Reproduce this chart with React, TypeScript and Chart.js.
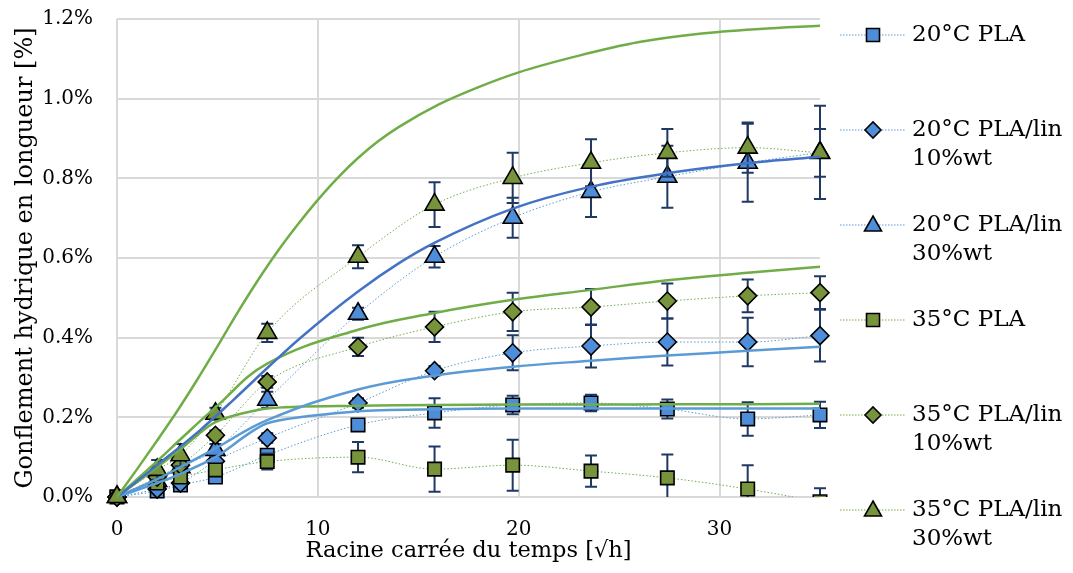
import React, { useEffect, useRef } from 'react';
import { Chart, registerables } from 'chart.js';

Chart.register(...registerables);

// x values: square root of time [√h]
const X_SQRT_H = [0, 2, 3.16, 4.9, 7.48, 12, 15.81, 19.7, 23.6, 27.4, 31.4, 35];

// measured swelling [%] and error bars
const PLA_20 = [0, 0.015, 0.03, 0.05, 0.105, 0.181, 0.211, 0.231, 0.236, 0.221, 0.196, 0.206];
const PLA_20_ERR = [0, 0.008, 0.01, 0.012, 0.015, 0.008, 0.037, 0.023, 0.021, 0.024, 0.042, 0.033];

const LIN10_20 = [0, 0.02, 0.035, 0.09, 0.148, 0.236, 0.317, 0.362, 0.379, 0.389, 0.389, 0.405];
const LIN10_20_ERR = [0, 0.008, 0.01, 0.01, 0.012, 0.012, 0.012, 0.044, 0.054, 0.059, 0.061, 0.065];

const LIN30_20 = [0, 0.04, 0.075, 0.118, 0.244, 0.46, 0.603, 0.701, 0.766, 0.804, 0.839, 0.865];
const LIN30_20_ERR = [0, 0.01, 0.01, 0.015, 0.02, 0.015, 0.027, 0.05, 0.063, 0.078, 0.098, 0.117];

const PLA_35 = [0, 0.035, 0.05, 0.068, 0.089, 0.1, 0.07, 0.08, 0.065, 0.048, 0.02, -0.012];
const PLA_35_ERR = [0, 0.01, 0.012, 0.015, 0.02, 0.038, 0.057, 0.064, 0.039, 0.059, 0.06, 0.034];

const LIN10_35 = [0, 0.05, 0.08, 0.155, 0.289, 0.377, 0.427, 0.465, 0.477, 0.492, 0.505, 0.513];
const LIN10_35_ERR = [0, 0.01, 0.01, 0.012, 0.015, 0.023, 0.038, 0.048, 0.045, 0.044, 0.041, 0.041];

const LIN30_35 = [0, 0.068, 0.105, 0.209, 0.412, 0.603, 0.734, 0.801, 0.839, 0.864, 0.877, 0.864];
const LIN30_35_ERR = [0, 0.025, 0.028, 0.015, 0.023, 0.029, 0.056, 0.063, 0.059, 0.06, 0.063, 0.06];

// model (fit) curves
const FIT_LIN30_35_X = [0, 1, 2, 3, 4, 5, 6, 7, 8, 9, 10, 11, 12, 13, 14, 16, 18, 20, 23, 26, 29, 32, 35];
const FIT_LIN30_35 = [0, 0.07, 0.142, 0.216, 0.295, 0.378, 0.463, 0.543, 0.617, 0.684, 0.746, 0.802, 0.851, 0.893, 0.928, 0.985, 1.029, 1.066, 1.108, 1.142, 1.163, 1.175, 1.183];
const FIT_LIN30_20_X = [0, 2, 4.14, 5.8, 7.55, 9.1, 12, 14.1, 15.8, 19.7, 23.5, 27.4, 31.4, 35];
const FIT_LIN30_20 = [0, 0.08, 0.168, 0.244, 0.327, 0.398, 0.516, 0.589, 0.638, 0.724, 0.778, 0.813, 0.838, 0.854];
const FIT_LIN10_35 = [0, 0.09, 0.145, 0.225, 0.335, 0.42, 0.462, 0.495, 0.52, 0.544, 0.563, 0.578];
const FIT_LIN10_20 = [0, 0.045, 0.075, 0.122, 0.193, 0.27, 0.305, 0.327, 0.342, 0.355, 0.367, 0.377];
const FIT_PLA_35 = [0, 0.075, 0.12, 0.188, 0.222, 0.229, 0.231, 0.232, 0.232, 0.233, 0.233, 0.234];
const FIT_PLA_20 = [0, 0.035, 0.058, 0.1, 0.185, 0.215, 0.22, 0.222, 0.222, 0.222, 0.222, 0.222];

const Y_TICKS_MAX = 1.2;
const Y_STEP = 0.2;
const X_MAX = 35;
const X_STEP = 10;

const LEGEND_LABELS = [
  ['20°C PLA'],
  ['20°C PLA/lin', '10%wt'],
  ['20°C PLA/lin', '30%wt'],
  ['35°C PLA'],
  ['35°C PLA/lin', '10%wt'],
  ['35°C PLA/lin', '30%wt'],
];

const BLUE_LINE = '#5B9BD5';
const BLUE_FILL = '#4E8DDA';
const DARK_BLUE = '#4472C4';
const GREEN_LINE = '#70AD47';
const GREEN_FILL = '#77933C';
const ERR_COLOR = '#1F3864';
const SERIF = '"DejaVu Serif", serif';

const SERIES = [
  { values: PLA_20, errors: PLA_20_ERR, style: 'rect', line: BLUE_LINE, fill: BLUE_FILL, order: 16 },
  { values: LIN10_20, errors: LIN10_20_ERR, style: 'rectRot', line: BLUE_LINE, fill: BLUE_FILL, order: 15 },
  { values: LIN30_20, errors: LIN30_20_ERR, style: 'triangle', line: BLUE_LINE, fill: BLUE_FILL, order: 14 },
  { values: PLA_35, errors: PLA_35_ERR, style: 'rect', line: GREEN_LINE, fill: GREEN_FILL, order: 13 },
  { values: LIN10_35, errors: LIN10_35_ERR, style: 'rectRot', line: GREEN_LINE, fill: GREEN_FILL, order: 12 },
  { values: LIN30_35, errors: LIN30_35_ERR, style: 'triangle', line: GREEN_LINE, fill: GREEN_FILL, order: 11 },
];

const FITS = [
  { xs: FIT_LIN30_35_X, values: FIT_LIN30_35, color: GREEN_LINE, smooth: 0, mono: true },
  { xs: FIT_LIN30_20_X, values: FIT_LIN30_20, color: DARK_BLUE, smooth: 0, mono: true },
  { xs: X_SQRT_H, values: FIT_LIN10_35, color: GREEN_LINE, smooth: 0.4, mono: false },
  { xs: X_SQRT_H, values: FIT_LIN10_20, color: BLUE_LINE, smooth: 0.4, mono: false },
  { xs: X_SQRT_H, values: FIT_PLA_35, color: GREEN_LINE, smooth: 0.25, mono: false },
  { xs: X_SQRT_H, values: FIT_PLA_20, color: BLUE_LINE, smooth: 0.25, mono: false },
];

const radiusFor = (style: string) => (style === 'triangle' ? 11 : style === 'rect' ? 9.5 : 9);

const errorBarPlugin = {
  id: 'errorBars',
  beforeDatasetDraw(chart: any, args: any) {
    const ds = chart.data.datasets[args.index];
    if (!ds.errors) return;
    const xs = chart.scales.x;
    const ys = chart.scales.y;
    const ctx = chart.ctx;
    const ca = chart.chartArea;
    ctx.save();
    ctx.beginPath();
    ctx.rect(ca.left - 30, ca.top - 30, ca.right - ca.left + 60, ca.bottom - ca.top + 30);
    ctx.clip();
    ctx.strokeStyle = ERR_COLOR;
    ctx.lineWidth = 2;
    ds.data.forEach((p: any, i: number) => {
      const e = ds.errors[i];
      if (!e) return;
      const px = xs.getPixelForValue(p.x);
      const yTop = ys.getPixelForValue(p.y + e);
      const yBot = ys.getPixelForValue(p.y - e);
      ctx.beginPath();
      ctx.moveTo(px, yTop);
      ctx.lineTo(px, yBot);
      ctx.moveTo(px - 6, yTop);
      ctx.lineTo(px + 6, yTop);
      ctx.moveTo(px - 6, yBot);
      ctx.lineTo(px + 6, yBot);
      ctx.stroke();
    });
    ctx.restore();
  },
};

function drawMarker(ctx: CanvasRenderingContext2D, style: string, x: number, y: number, fill: string) {
  ctx.beginPath();
  if (style === 'rect') {
    ctx.rect(x - 6.5, y - 6.5, 13, 13);
  } else if (style === 'rectRot') {
    ctx.moveTo(x - 8, y);
    ctx.lineTo(x, y - 8);
    ctx.lineTo(x + 8, y);
    ctx.lineTo(x, y + 8);
    ctx.closePath();
  } else {
    ctx.moveTo(x, y - 9);
    ctx.lineTo(x + 8.5, y + 6);
    ctx.lineTo(x - 8.5, y + 6);
    ctx.closePath();
  }
  ctx.fillStyle = fill;
  ctx.fill();
  ctx.lineWidth = 1.6;
  ctx.strokeStyle = '#000';
  ctx.stroke();
}

const legendPlugin = {
  id: 'sideLegend',
  afterDraw(chart: any) {
    const ctx: CanvasRenderingContext2D = chart.ctx;
    const ys = [35, 130, 225, 320, 415, 510];
    ctx.save();
    SERIES.forEach((s, i) => {
      const y = ys[i];
      ctx.beginPath();
      ctx.setLineDash([1.5, 1.5]);
      ctx.strokeStyle = s.line;
      ctx.lineWidth = 1;
      ctx.moveTo(840, y);
      ctx.lineTo(905, y);
      ctx.stroke();
      ctx.setLineDash([]);
      drawMarker(ctx, s.style, 873, y, s.fill);
      ctx.fillStyle = '#000';
      ctx.font = `23px ${SERIF}`;
      ctx.textBaseline = 'middle';
      ctx.textAlign = 'left';
      LEGEND_LABELS[i].forEach((t, j) => ctx.fillText(t, 912, y + j * 29));
    });
    ctx.restore();
  },
};

export default function App() {
  const ref = useRef<HTMLCanvasElement | null>(null);

  useEffect(() => {
    if (!ref.current) return;
    const dataSets: any[] = [];
    FITS.forEach((f) => {
      dataSets.push({
        label: 'fit',
        data: f.xs.map((x, i) => ({ x, y: f.values[i] })),
        showLine: true,
        borderColor: f.color,
        borderWidth: 2.5,
        pointRadius: 0,
        tension: f.smooth,
        cubicInterpolationMode: f.mono ? 'monotone' : 'default',
        order: 0,
      });
    });
    SERIES.forEach((s, k) => {
      dataSets.push({
        label: LEGEND_LABELS[k].join(' '),
        data: X_SQRT_H.map((x, i) => ({ x, y: s.values[i] })),
        errors: s.errors,
        showLine: true,
        borderColor: s.line,
        borderWidth: 1,
        borderDash: [1.5, 2],
        cubicInterpolationMode: 'monotone',
        pointStyle: s.style,
        pointRadius: radiusFor(s.style),
        pointBackgroundColor: s.fill,
        pointBorderColor: '#000',
        pointBorderWidth: 1.6,
        order: s.order,
        clip: k === 3 ? { left: 20, top: 20, right: 20, bottom: 0 } : { left: 20, top: 20, right: 20, bottom: 20 },
      });
    });

    const chart = new Chart(ref.current, {
      type: 'scatter',
      data: { datasets: dataSets },
      plugins: [errorBarPlugin, legendPlugin],
      options: {
        animation: false,
        responsive: false,
        maintainAspectRatio: false,
        layout: { padding: { left: 0, right: 253, top: 19, bottom: 0 } },
        plugins: { legend: { display: false }, tooltip: { enabled: false } },
        scales: {
          x: {
            type: 'linear',
            min: 0,
            max: X_MAX,
            afterFit: (s: any) => { s.height = 76; },
            grid: { color: '#D9D9D9', lineWidth: 2, drawTicks: false },
            border: { display: false },
            ticks: {
              stepSize: X_STEP,
              includeBounds: false,
              padding: 21,
              color: '#000',
              font: { family: SERIF, size: 20 },
              callback: (v: any) => String(v),
            },
            title: {
              display: true,
              text: 'Racine carrée du temps [√h]',
              color: '#000',
              font: { family: SERIF, size: 22.5 },
              padding: { top: 8, bottom: 8 },
            },
          },
          y: {
            type: 'linear',
            min: 0,
            max: Y_TICKS_MAX,
            afterFit: (s: any) => {
              s.width = 117;
              s.paddingTop = 12;
              s.paddingBottom = 12;
            },
            grid: { color: '#D9D9D9', lineWidth: 2, drawTicks: false },
            border: { display: false },
            ticks: {
              stepSize: Y_STEP,
              padding: 24,
              color: '#000',
              font: { family: SERIF, size: 20 },
              callback: (v: any) => Number(v).toFixed(1) + '%',
            },
            title: {
              display: true,
              text: 'Gonflement hydrique en longueur [%]',
              color: '#000',
              font: { family: SERIF, size: 24 },
              padding: { top: 11, bottom: 11 },
            },
          },
        },
      } as any,
    });
    return () => chart.destroy();
  }, []);

  return (
    <div style={{ position: 'absolute', left: 0, top: 0, width: 1073, height: 573, background: '#fff' }}>
      <canvas ref={ref} width={1073} height={573} style={{ width: 1073, height: 573 }} />
    </div>
  );
}
